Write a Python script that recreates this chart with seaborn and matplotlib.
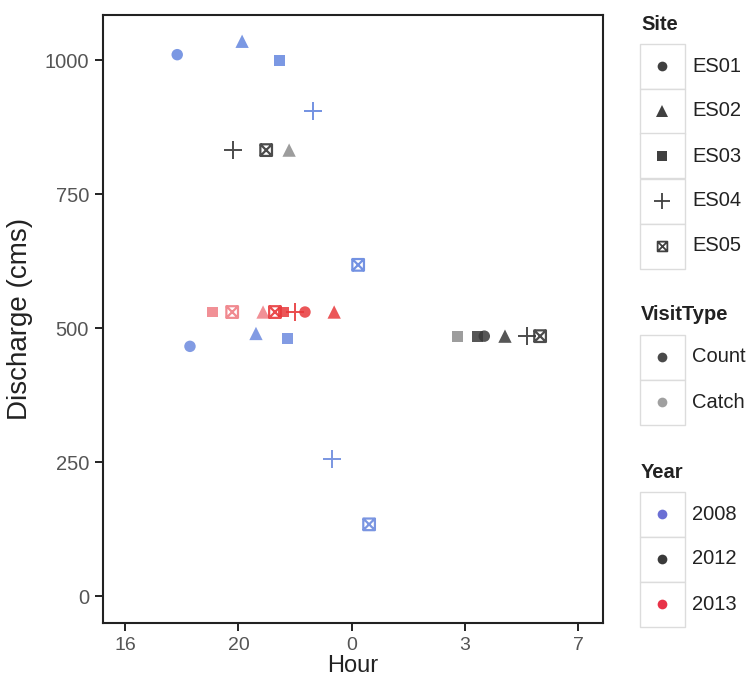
import numpy as np
import pandas as pd
import matplotlib
matplotlib.use("Agg")
import matplotlib.pyplot as plt
import seaborn as sns
from matplotlib.path import Path
from matplotlib.lines import Line2D
from matplotlib.patches import Rectangle

# ---- data -------------------------------------------------------------
# clock hour of each visit (values past midnight are written as 24 + h)
HOUR = [17.84, 20.13, 21.44, 22.64, 24.17, 18.29, 20.62, 21.72, 23.31, 24.46,
        19.81, 20.98, 21.79, 26.79, 27.44, 27.68, 28.41, 29.19, 29.65,
        19.07, 19.78, 20.87, 21.29, 21.58, 22.00, 22.35, 23.38]
DISCHARGE = [1010, 1035, 1000, 905, 618, 466, 490, 480, 256, 134,
             832, 832, 832, 485, 485, 485, 485, 485, 485,
             530, 530, 530, 530, 530, 530, 530, 530]
SITE = ["ES01", "ES02", "ES03", "ES04", "ES05", "ES01", "ES02", "ES03", "ES04", "ES05",
        "ES04", "ES05", "ES02", "ES03", "ES03", "ES01", "ES02", "ES04", "ES05",
        "ES03", "ES05", "ES02", "ES05", "ES03", "ES04", "ES01", "ES02"]
VISIT = ["Count"] * 5 + ["Catch"] * 5 + \
        ["Count", "Count", "Catch", "Catch", "Count", "Count", "Count", "Count", "Count"] + \
        ["Catch", "Catch", "Catch", "Count", "Count", "Count", "Count", "Count"]
YEAR = [2008] * 10 + [2012] * 9 + [2013] * 8

SITES = ["ES01", "ES02", "ES03", "ES04", "ES05"]
VISIT_TYPES = ["Count", "Catch"]
YEARS = [2008, 2012, 2013]

TICK_HOURS = [16, 20, 24, 27, 31]
TICK_LABELS = ["16", "20", "0", "3", "7"]
Y_TICKS = [0, 250, 500, 750, 1000]

df = pd.DataFrame({"Hour": HOUR, "Discharge": DISCHARGE, "Site": SITE,
                   "VisitType": VISIT, "Year": YEAR})

# ---- styling ----------------------------------------------------------
sns.set_theme(style="white")
plt.rcParams["font.family"] = ["Liberation Sans", "DejaVu Sans"]

POINT_COLORS = {
    (2008, "Count"): "#6486df", (2008, "Catch"): "#6c8ade",
    (2012, "Count"): "#383838", (2012, "Catch"): "#8c8c8c",
    (2013, "Count"): "#e8383b", (2013, "Catch"): "#ef7d84",
}

# square with a cross inside
_box_x = Path([(-1, -1), (1, -1), (1, 1), (-1, 1), (-1, -1),
               (-1, -1), (1, 1), (-1, 1), (1, -1)],
              [Path.MOVETO, Path.LINETO, Path.LINETO, Path.LINETO, Path.CLOSEPOLY,
               Path.MOVETO, Path.LINETO, Path.MOVETO, Path.LINETO])

MARKERS = {"ES01": "o", "ES02": "^", "ES03": "s", "ES04": "+", "ES05": _box_x}
SIZES = {"ES01": 68, "ES02": 92, "ES03": 62, "ES04": 155, "ES05": 70}


# hour axis: evenly spaced breaks, linear in between
def _fwd(h):
    h = np.asarray(h, dtype=float)
    k = np.asarray(TICK_HOURS, dtype=float)
    p = np.arange(len(k), dtype=float)
    out = np.interp(h, k, p)
    out = np.where(h < k[0], (h - k[0]) / (k[1] - k[0]), out)
    out = np.where(h > k[-1], p[-1] + (h - k[-1]) / (k[-1] - k[-2]), out)
    return out


def _inv(u):
    u = np.asarray(u, dtype=float)
    k = np.asarray(TICK_HOURS, dtype=float)
    p = np.arange(len(k), dtype=float)
    out = np.interp(u, p, k)
    out = np.where(u < 0, k[0] + u * (k[1] - k[0]), out)
    out = np.where(u > p[-1], k[-1] + (u - p[-1]) * (k[-1] - k[-2]), out)
    return out


W, H = 747, 690
fig = plt.figure(figsize=(W / 100, H / 100), dpi=100)
ax = fig.add_axes([103 / W, 1 - 623 / H, 500 / W, 608 / H])
ax.set_xscale("function", functions=(_fwd, _inv))

for (site, year, visit), g in df.groupby(["Site", "Year", "VisitType"]):
    col = POINT_COLORS[(year, visit)]
    mk = MARKERS[site]
    if site == "ES05":
        sns.scatterplot(data=g, x="Hour", y="Discharge", ax=ax, marker=mk,
                        s=SIZES[site], color=col, facecolor="none",
                        edgecolor=col, linewidth=1.6, alpha=0.9, legend=False)
    elif site == "ES04":
        sns.scatterplot(data=g, x="Hour", y="Discharge", ax=ax, marker=mk,
                        s=SIZES[site], color=col, edgecolor=col,
                        linewidth=1.4, alpha=0.9, legend=False)
    else:
        sns.scatterplot(data=g, x="Hour", y="Discharge", ax=ax, marker=mk,
                        s=SIZES[site], color=col, edgecolor="none",
                        linewidth=0, alpha=0.85, legend=False)

ax.set_xlim(15.22, 31.87)
ax.set_ylim(-50, 1084)
ax.set_xticks(TICK_HOURS)
ax.set_xticklabels(TICK_LABELS)
ax.xaxis.set_minor_locator(matplotlib.ticker.NullLocator())
ax.set_yticks(Y_TICKS)
ax.tick_params(axis="both", direction="out", length=6, width=1.4,
               colors="#222222", labelcolor="#555555", pad=4,
               bottom=True, left=True)
ax.tick_params(axis="x", labelsize=14)
ax.tick_params(axis="y", labelsize=14.5)
for sp in ax.spines.values():
    sp.set_visible(True)
    sp.set_color("#222222")
    sp.set_linewidth(1.5)
ax.set_xlabel("Hour", fontsize=17, color="#222222", labelpad=1)
ax.set_ylabel("Discharge (cms)", fontsize=20, color="#222222", labelpad=8)
ax.grid(False)
ax.set_facecolor("white")


# ---- legends (ggplot-style keys) --------------------------------------
def fx(x):
    return x / W


def fy(y):
    return 1 - y / H


def draw_legend(title, top, labels, markers, colors, sizes):
    fig.text(fx(641), fy(top), title, fontsize=14.5, fontweight="bold",
             color="#222222", va="center", ha="left")
    row_h = 45
    first = top + 42
    for i, (lab, mk, col, ms) in enumerate(zip(labels, markers, colors, sizes)):
        cy = first + i * row_h
        fig.add_artist(Rectangle((fx(640), fy(cy + row_h / 2)), 45 / W, row_h / H,
                                 transform=fig.transFigure, facecolor="white",
                                 edgecolor="#dcdcdc", linewidth=1.0))
        filled = mk not in ("+", _box_x)
        fig.add_artist(Line2D([fx(662)], [fy(cy)], transform=fig.transFigure,
                              marker=mk, markersize=ms, linestyle="none",
                              markerfacecolor=col if filled else "none",
                              markeredgecolor=col,
                              markeredgewidth=0 if filled else 1.3))
        fig.text(fx(692), fy(cy), lab, fontsize=14.5, color="#222222",
                 va="center", ha="left")


draw_legend("Site", 24, SITES, [MARKERS[s] for s in SITES],
            ["#404040"] * 5, [7, 8.5, 6.5, 12, 7])
draw_legend("VisitType", 315, VISIT_TYPES, ["o", "o"],
            ["#4a4a4a", "#a0a0a0"], [7, 7])
draw_legend("Year", 472, [str(y) for y in YEARS], ["o", "o", "o"],
            ["#6b6fd4", "#3a3a3a", "#e83248"], [7, 7, 7])

fig.savefig("out.png", dpi=100, facecolor="white")
